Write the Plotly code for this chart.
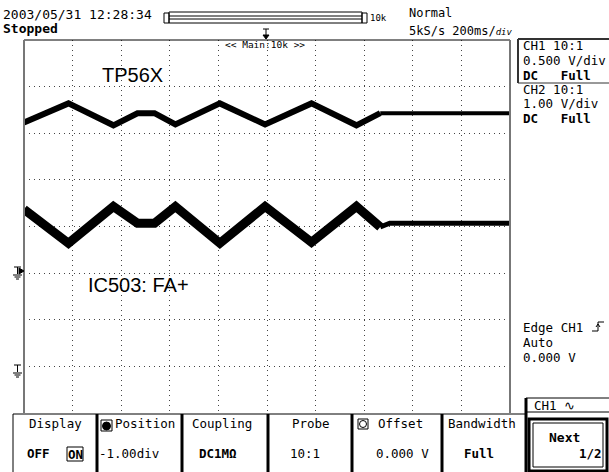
import plotly.graph_objects as go

# ---------------- data (time in ms, amplitude in divisions) ----------------
ch1_time_ms = [-1000, -817, -632, -533, -463, -377, -194, -8, 183, 368, 466]
ch1_div = [2.23, 2.64, 2.17, 2.43, 2.43, 2.19, 2.64, 2.19, 2.64, 2.17, 2.43]
ch1_idle_time_ms = [466, 1000]
ch1_idle_div = [2.43, 2.43]

ch2_time_ms = [-1000, -817, -632, -533, -463, -377, -194, -8, 183, 368, 466]
ch2_div = [0.37, -0.36, 0.43, 0.07, 0.07, 0.43, -0.36, 0.43, -0.34, 0.43, -0.01]
ch2_idle_time_ms = [466, 505, 1000]
ch2_idle_div = [-0.01, 0.07, 0.07]

ch1_label = "TP56X"
ch2_label = "IC503: FA+"

W, H = 609, 472
MONO = "DejaVu Sans Mono"
SANS = "Liberation Sans, Arial"


def X(px):
    return px / W


def Y(py):
    return 1 - py / H


fig = go.Figure()
fig.add_trace(go.Scatter(x=ch1_time_ms, y=ch1_div, mode="lines",
                         line=dict(color="black", width=6), hoverinfo="skip"))
fig.add_trace(go.Scatter(x=ch1_idle_time_ms, y=ch1_idle_div, mode="lines",
                         line=dict(color="black", width=4), hoverinfo="skip"))
fig.add_trace(go.Scatter(x=ch2_time_ms, y=ch2_div, mode="lines",
                         line=dict(color="black", width=9), hoverinfo="skip"))
fig.add_trace(go.Scatter(x=ch2_idle_time_ms, y=ch2_idle_div, mode="lines",
                         line=dict(color="black", width=5), hoverinfo="skip"))

shapes = []


def line(x0, y0, x1, y1, color="black", width=1):
    shapes.append(dict(type="line", xref="paper", yref="paper",
                       x0=X(x0), y0=Y(y0), x1=X(x1), y1=Y(y1),
                       line=dict(color=color, width=width)))


def rect(x0, y0, x1, y1, color="black", width=1, fill=None):
    d = dict(type="rect", xref="paper", yref="paper",
             x0=X(x0), y0=Y(y0), x1=X(x1), y1=Y(y1),
             line=dict(color=color, width=width))
    if fill:
        d["fillcolor"] = fill
    shapes.append(d)


def path(pts, fill=None, width=1):
    s = "M " + " L ".join(f"{X(a)} {Y(b)}" for a, b in pts)
    if fill:
        s += " Z"
    d = dict(type="path", xref="paper", yref="paper", path=s,
             line=dict(color="black", width=width))
    if fill:
        d["fillcolor"] = fill
    shapes.append(d)


# plot frame
line(24, 40, 510, 40, "black", 1)
line(24, 40, 24, 413, "#777777", 2)
line(510, 40, 510, 413, "#777777", 2)

# header zoom bar
rect(169, 12, 362, 23)
line(169, 16, 362, 16)
line(169, 19, 362, 19)
rect(164, 13, 169, 23)
rect(362, 13, 367, 23)
# trigger position mark
line(266, 29, 266, 35)
line(263, 29, 269, 29)
path([(263, 35), (269, 35), (266, 39)], fill="black")

# right panel CH1 box
line(518, 39, 612, 39, "#333333", 2)
line(518, 39, 518, 83, "#333333", 2)
line(518, 83, 612, 83, "#333333", 1)

# trigger edge symbol
path([(592, 331), (598, 331), (598, 322), (604, 322)], width=1)
path([(596, 327), (598, 324), (600, 327)], width=1)

# CH1 label box bottom right
line(526, 398, 612, 398, "black", 1)
line(526, 412, 612, 412, "black", 1)
line(526, 398, 526, 472, "black", 3)

# Next button
rect(529, 419, 607, 471, "black", 3)
rect(533, 423, 603, 467, "black", 1)

# bottom menu
line(13, 414, 526, 414, "black", 1)
line(13, 414, 13, 472, "black", 1)
for sx in [97, 182, 268, 352, 442]:
    line(sx, 414, sx, 472, "black", 3)
rect(67, 447, 83, 461, "black", 1)
# position icon
rect(101, 420, 112, 431, "black", 1)
shapes.append(dict(type="circle", xref="paper", yref="paper",
                   x0=X(102.5), y0=Y(422), x1=X(110.5), y1=Y(430),
                   line=dict(color="black", width=1), fillcolor="black"))
# offset icon
rect(358, 419, 368, 429, "black", 1)
shapes.append(dict(type="circle", xref="paper", yref="paper",
                   x0=X(359.5), y0=Y(420.5), x1=X(366.5), y1=Y(427.5),
                   line=dict(color="black", width=1)))

# left ground markers
for gy, tri in [(267, True), (365, False)]:
    line(14, gy, 21, gy)
    line(17.5, gy, 17.5, gy + 7)
    line(13, gy + 8, 22, gy + 8)
    line(14.5, gy + 10, 20.5, gy + 10)
    line(16, gy + 12, 19, gy + 12)
    if tri:
        path([(19, gy + 1), (24, gy + 4), (19, gy + 7)], fill="black")

annotations = []


def ann(text, x, y, size=12.5, xanchor="left", family=MONO, bold=False):
    if bold:
        text = "<b>" + text + "</b>"
    annotations.append(dict(text=text, x=X(x), y=Y(y), xref="paper", yref="paper",
                            xanchor=xanchor, yanchor="middle", showarrow=False,
                            font=dict(family=family, size=size, color="black")))


ann("2003/05/31 12:28:34", 1, 14, 13)
ann("Stopped", 1, 29, 13, bold=True)
ann("10k", 368, 18, 9)
ann("Normal", 407, 13, 12)
ann("5kS/s 200ms/<i><span style='font-size:9px'>div</span></i>", 407, 31, 12)
ann("&lt;&lt; Main:10k &gt;&gt;", 265, 45, 9.5, xanchor="center")

ann("CH1 10:1", 521, 46, 12.5)
ann("0.500 V/div", 521, 61, 12.5)
ann("DC   Full", 521, 75, 12.5, bold=True)
ann("CH2 10:1", 521, 89, 12.5)
ann("1.00 V/div", 521, 104, 12.5)
ann("DC   Full", 521, 118, 12.5, bold=True)

ann("Edge CH1", 521, 327, 12.5)
ann("Auto", 521, 342, 12.5)
ann("0.000 V", 521, 357, 12.5)
ann("CH1 ∿", 532, 405, 12.5)
ann("Next", 564, 437, 13, xanchor="center", bold=True)
ann("1/2", 604, 453, 12.5, xanchor="right", bold=True)

ann("Display", 55, 423, 12.5, xanchor="center")
ann("Position", 145, 423, 12.5, xanchor="center")
ann("Coupling", 222, 423, 12.5, xanchor="center")
ann("Probe", 311, 423, 12.5, xanchor="center")
ann("Offset", 400, 423, 12.5, xanchor="center")
ann("Bandwidth", 482, 423, 12.5, xanchor="center")

ann("OFF", 38, 453, 12.5, xanchor="center", bold=True)
ann("ON", 75, 454, 12.5, xanchor="center", bold=True)
ann("-1.00div", 129, 453, 12.5, xanchor="center")
ann("DC1MΩ", 218, 453, 12.5, xanchor="center", bold=True)
ann("10:1", 305, 453, 12.5, xanchor="center")
ann("0.000 V", 402, 453, 12.5, xanchor="center")
ann("Full", 479, 453, 12.5, xanchor="center", bold=True)

ann(ch1_label, 100, 75, 20, family=SANS)
ann(ch2_label, 86, 285, 20, family=SANS)

fig.update_layout(
    width=W, height=H, autosize=False,
    margin=dict(l=0, r=0, t=0, b=0),
    paper_bgcolor="white", plot_bgcolor="white",
    showlegend=False,
    shapes=shapes, annotations=annotations,
    xaxis=dict(domain=[X(24), X(510)], range=[-1000, 1000], dtick=200,
               tick0=-1000, showgrid=True, gridcolor="#444444", gridwidth=1,
               griddash="1px,4px", zeroline=False, showticklabels=False,
               ticks="", showline=False, fixedrange=True),
    yaxis=dict(domain=[Y(413), Y(40)], range=[-4, 4], dtick=1, tick0=0,
               showgrid=True, gridcolor="#444444", gridwidth=1,
               griddash="1px,4px", zeroline=False, showticklabels=False,
               ticks="", showline=False, fixedrange=True),
)

fig.write_html(
    "out.html",
    config={"displayModeBar": False, "staticPlot": True},
    post_script="document.body.style.margin='0';document.body.style.overflow='hidden';",
)
